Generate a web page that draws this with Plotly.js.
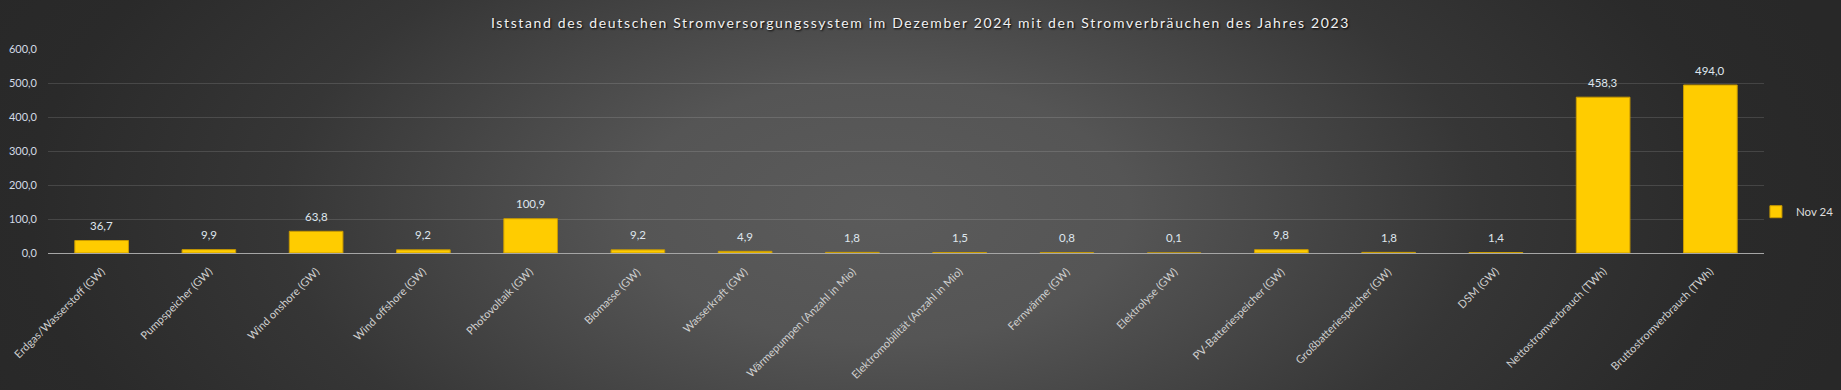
<!DOCTYPE html>
<html>
<head>
<meta charset="utf-8">
<script src="https://cdn.plot.ly/plotly-3.0.1.min.js"></script>
<style>
  html, body { margin: 0; padding: 0; width: 1841px; height: 390px; overflow: hidden; }
  body {
    background: radial-gradient(ellipse 1000px 520px at 880px 210px, #5b5b5b 0%, #555555 25%, #363636 60%, #2a2a2a 85%, #282828 100%);
  }
  #chart { width: 1841px; height: 390px; }
  .gtitle { letter-spacing: 1.65px; }
</style>
</head>
<body>
<div id="chart"></div>
<script>
const categories = [
  "Erdgas/Wasserstoff (GW)",
  "Pumpspeicher (GW)",
  "Wind onshore (GW)",
  "Wind offshore (GW)",
  "Photovoltaik (GW)",
  "Biomasse (GW)",
  "Wasserkraft (GW)",
  "Wärmepumpen (Anzahl in Mio)",
  "Elektromobilität (Anzahl in Mio)",
  "Fernwärme (GW)",
  "Elektrolyse (GW)",
  "PV-Batteriespeicher (GW)",
  "Großbatteriespeicher (GW)",
  "DSM (GW)",
  "Nettostromverbrauch (TWh)",
  "Bruttostromverbrauch (TWh)"
];
const valuesNov24 = [36.7, 9.9, 63.8, 9.2, 100.9, 9.2, 4.9, 1.8, 1.5, 0.8, 0.1, 9.8, 1.8, 1.4, 458.3, 494.0];
const seriesName = "Nov 24";
const chartTitle = "Iststand des deutschen Stromversorgungssystem im Dezember 2024 mit den Stromverbräuchen des Jahres 2023";
const yTickValues = [0, 100, 200, 300, 400, 500, 600];

const FONT = "Lato, 'Open Sans', sans-serif";

const trace = {
  type: "bar",
  x: categories,
  y: valuesNov24,
  name: seriesName,
  marker: { color: "#ffcc00", line: { color: "#c99a00", width: 1 } },
  hoverinfo: "x+y",
  showlegend: true
};

// value labels above the bars
const valueLabels = categories.map((c, i) => ({
  x: c,
  y: valuesNov24[i],
  xref: "x",
  yref: "y",
  text: valuesNov24[i].toFixed(1).replace(".", ","),
  showarrow: false,
  yanchor: "middle",
  yshift: 15,
  font: { family: FONT, size: 11.5, color: "#dfe6ee" }
}));

// category labels, rotated 45 degrees, ending under each bar
const categoryLabels = categories.map((c) => ({
  x: c,
  y: 0,
  xref: "x",
  yref: "y",
  text: c,
  showarrow: false,
  textangle: -45,
  xanchor: "right",
  yanchor: "top",
  xshift: 8,
  yshift: -9,
  font: { family: FONT, size: 11, color: "#cfcfcf" }
}));

const layout = {
  width: 1841,
  height: 390,
  paper_bgcolor: "rgba(0,0,0,0)",
  plot_bgcolor: "rgba(0,0,0,0)",
  separators: ",.",
  margin: { l: 47.5, r: 77, t: 49.3, b: 136.7, pad: 0, autoexpand: false },
  bargap: 0.5,
  title: {
    text: chartTitle,
    x: 0.5,
    xref: "container",
    xanchor: "center",
    y: 1 - 23.5 / 390,
    yref: "container",
    yanchor: "middle",
    font: { family: FONT, size: 14, color: "#f2f2f2", shadow: "1px 1px 2px #000000" }
  },
  xaxis: {
    type: "category",
    range: [-0.5, categories.length - 0.5],
    autorange: false,
    showticklabels: false,
    showline: true,
    linecolor: "#a6a6a6",
    linewidth: 1,
    ticks: "",
    showgrid: false,
    fixedrange: true
  },
  yaxis: {
    range: [0, 600],
    autorange: false,
    tickvals: yTickValues,
    tickformat: ".1f",
    tickfont: { family: FONT, size: 11, color: "#d3dbe6" },
    gridcolor: "rgba(255,255,255,0.13)",
    gridwidth: 1,
    zeroline: false,
    showline: false,
    ticks: "",
    ticklabelstandoff: 10,
    fixedrange: true
  },
  showlegend: true,
  legend: {
    x: 0.9953,
    xanchor: "left",
    y: 0.2025,
    yanchor: "middle",
    font: { family: FONT, size: 11.5, color: "#dddddd" },
    bgcolor: "rgba(0,0,0,0)",
    itemwidth: 30
  },
  annotations: valueLabels.concat(categoryLabels)
};

Plotly.newPlot("chart", [trace], layout, { displayModeBar: false, staticPlot: true });
</script>
</body>
</html>
